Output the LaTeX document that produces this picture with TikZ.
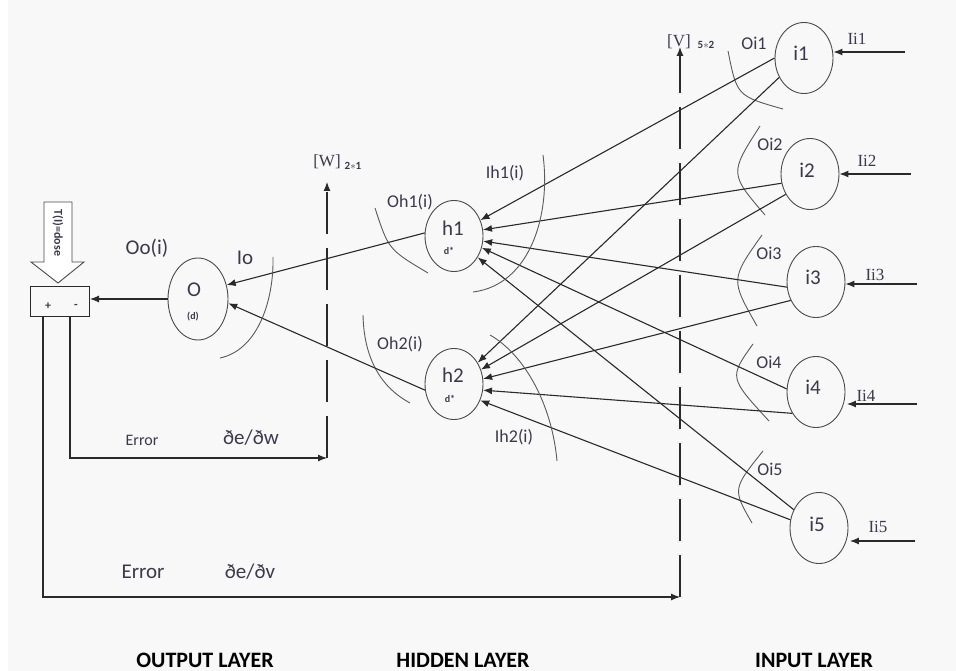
\documentclass[tikz,border=0pt]{standalone}
\usepackage{fontspec}
\setmainfont{Carlito}
\newfontfamily\serifi{Liberation Serif}
\usetikzlibrary{shapes.geometric,arrows.meta}
\definecolor{bg}{HTML}{F8F8F8}
\definecolor{ink}{HTML}{2A2A2A}
\definecolor{txt}{HTML}{3A3A4C}
\definecolor{arcc}{HTML}{5A5A5A}
\begin{document}
\begin{tikzpicture}[x=1pt,y=-1pt,
  neuron/.style={ellipse,draw=ink!85,line width=0.9pt,minimum width=58pt,minimum height=71pt,inner sep=0pt},
  wire/.style={draw=ink,line width=1.1pt,-{Latex[length=9pt,width=7pt]}},
  arcline/.style={draw=arcc,line width=0.9pt},
  dashline/.style={draw=ink,line width=1.1pt,dash pattern=on 42pt off 14pt},
  lab/.style={text=txt,inner sep=0pt,font=\fontsize{18}{20}\selectfont},
  big/.style={text=txt,inner sep=0pt,font=\fontsize{21}{23}\selectfont},
  tiny/.style={text=txt,inner sep=0pt,font=\fontsize{10}{11}\selectfont\bfseries},
  serl/.style={text=txt,inner sep=0pt,font=\serifi\fontsize{17}{19}\selectfont},
  layer/.style={text=black,inner sep=0pt,font=\fontsize{22}{24}\selectfont\bfseries}
]
\fill[bg] (0,0) rectangle (956,671);
\fill[white] (0,0) rectangle (8,671);
\useasboundingbox (0,0) rectangle (956,671);

% ---------- input neurons
\node[neuron] (i1) at (804,58) {};
\node[neuron] (i2) at (810,174) {};
\node[neuron] (i3) at (816,282) {};
\node[neuron] (i4) at (816,392) {};
\node[neuron] (i5) at (819,528) {};
\node[big] (ti1) at (801,53) {i1};
\node[big] (ti2) at (807,170) {i2};
\node[big] (ti3) at (813,277) {i3};
\node[big] (ti4) at (813,387) {i4};
\node[big] (ti5) at (817,524) {i5};

% ---------- hidden neurons
\node[neuron] (h1) at (454,236) {};
\node[neuron] (h2) at (454,384) {};
\node[big] (th1) at (453,228) {h1};
\node[tiny] (dh1) at (449,251) {d*};
\node[big] (th2) at (453,375) {h2};
\node[tiny] (dh2) at (450,399) {d*};

% ---------- output neuron
\node[neuron,minimum width=60pt,minimum height=82pt] (O) at (198,299) {};
\node[big] (tO) at (194,290) {O};
\node[tiny] (dO) at (193,317) {(d)};

% ---------- comparator box and target arrow
\node[draw=ink,line width=1pt,minimum width=59pt,minimum height=30pt,inner sep=0pt] (box) at (60,301) {};
\node[tiny,font=\fontsize{12}{13}\selectfont\bfseries] (plus) at (48,306) {+};
\node[tiny,font=\fontsize{12}{13}\selectfont\bfseries] (minus) at (76,306) {-};
\draw[draw=ink!85,line width=0.9pt,fill=white] (44,202) -- (72,202) -- (72,262) -- (84,262) -- (58,283) -- (31,262) -- (44,262) -- cycle;
\node[text=txt,inner sep=0pt,rotate=-90,font=\fontsize{12}{13}\selectfont\bfseries] (tdose) at (58,233) {T(I)=dose};

% ---------- input arrows
\coordinate (s1) at (905,52);
\coordinate (s2) at (911,174);
\coordinate (s3) at (917,284);
\coordinate (s4) at (917,404);
\coordinate (s5) at (915,541);
\draw[wire] (s1) -- (s1 -| i1.east);
\draw[wire] (s2) -- (s2 -| i2.east);
\draw[wire] (s3) -- (s3 -| i3.east);
\draw[wire,shorten >=1.5pt] (s4) -- (s4 -| i4.east);
\draw[wire,shorten >=1.5pt] (s5) -- (s5 -| i5.east);
\node[serl] (li1) at (857,39) {Ii1};
\node[serl] (li2) at (867,161) {Ii2};
\node[serl] (li3) at (875,275) {Ii3};
\node[serl] (li4) at (866,396) {Ii4};
\node[serl] (li5) at (878,527) {Ii5};

% ---------- input side arcs and labels
\draw[arcline] (728,51) .. controls (737,96) .. (783,109);
\draw[arcline] (760,126) .. controls (729.5,173.5) .. (765,215);
\draw[arcline] (762,235) .. controls (730.5,279.5) .. (757,326);
\draw[arcline] (753,344) .. controls (729,377.5) .. (769,421);
\draw[arcline] (763,451) .. controls (732.5,489) .. (752,523);
\node[lab] (oi1) at (754,43) {Oi1};
\node[lab] (oi2) at (770,144) {Oi2};
\node[lab] (oi3) at (769,253) {Oi3};
\node[lab] (oi4) at (769,362) {Oi4};
\node[lab] (oi5) at (770,469) {Oi5};

% ---------- input -> hidden connections
\draw[wire] (i1.180) -- (h1.31);
\draw[wire] (i2.198) -- (h1.12);
\draw[wire] (i3.190) -- (h1.-10);
\draw[wire] (i4.174) -- (h1.-23);
\draw[wire] (i5.144) -- (h1.-42);
\draw[wire] (i1.218) -- (h2.42);
\draw[wire] (i2.220) -- (h2.28);
\draw[wire] (i3.216) -- (h2.10);
\draw[wire] (i4.222) -- (h2.-12);
\draw[wire] (i5.164) -- (h2.-32);

% ---------- hidden arcs and labels
\draw[arcline] (375,208) .. controls (388.5,249.5) .. (428,273);
\draw[arcline] (543,155) .. controls (551,215) and (530,285) .. (473,292);
\draw[arcline] (363,315) .. controls (364,360) and (382,388) .. (410,403);
\draw[arcline] (490,335) .. controls (525,355) and (552,405) .. (557,461);
\node[lab] (oh1) at (410,202) {Oh1(i)};
\node[lab] (ih1) at (505,173) {Ih1(i)};
\node[lab] (oh2) at (400,344) {Oh2(i)};
\node[lab] (ih2) at (514,437) {Ih2(i)};

% ---------- hidden -> output
\draw[wire] (h1.174) -- (O.26);
\draw[wire] (h2.192) -- (O.-8);
\draw[arcline] (273,257) .. controls (274,300) and (258,350) .. (220,358);
\node[big] (oo) at (147,248) {Oo(i)};
\node[big] (io) at (245,258) {Io};

% ---------- output -> comparator
\draw[wire] (O.west) -- (O.west -| box.east);

% ---------- weight update lines
\coordinate (wtop) at (327,182);
\coordinate (wbot) at (327,458);
\coordinate (e1) at (70,458);
\coordinate (vtop) at (680,47);
\coordinate (vbot) at (680,597);
\coordinate (e2) at (43,597);
\draw[dashline,-{Latex[length=9pt,width=7pt]}] (wbot) -- (wtop);
\draw[dashline,-{Latex[length=9pt,width=7pt]}] (vbot) -- (vtop);
\draw[wire] (box.south -| e1) -- (e1) -- (wbot);
\draw[wire] (box.south -| e2) -- (e2) -- (vbot);
\node[text=txt,inner sep=0pt,font=\serifi\fontsize{17}{19}\selectfont] (wl) at (327,162) {[W]};
\node[text=txt,inner sep=0pt,font=\fontsize{11}{12}\selectfont\bfseries] (wsub) at (353,166) {2$\ast$1};
\node[text=txt,inner sep=0pt,font=\serifi\fontsize{17}{19}\selectfont] (vl) at (679,42) {[V]};
\node[text=txt,inner sep=0pt,font=\fontsize{11}{12}\selectfont\bfseries] (vsub) at (706,45) {5$\ast$2};

\node[text=txt,inner sep=0pt,font=\fontsize{16}{18}\selectfont] (err1) at (142,440) {Error};
\node[text=txt,inner sep=0pt,font=\fontsize{21}{23}\selectfont] (dw) at (251,438) {ðe/ðw};
\node[text=txt,inner sep=0pt,font=\fontsize{21}{23}\selectfont] (err2) at (143,572) {Error};
\node[text=txt,inner sep=0pt,font=\fontsize{21}{23}\selectfont] (dv) at (250,572) {ðe/ðv};

% ---------- layer titles
\node[layer] (lo) at (205,660) {OUTPUT LAYER};
\node[layer] (lh) at (463,660) {HIDDEN LAYER};
\node[layer] (li) at (814,660) {INPUT LAYER};
\end{tikzpicture}
\end{document}
